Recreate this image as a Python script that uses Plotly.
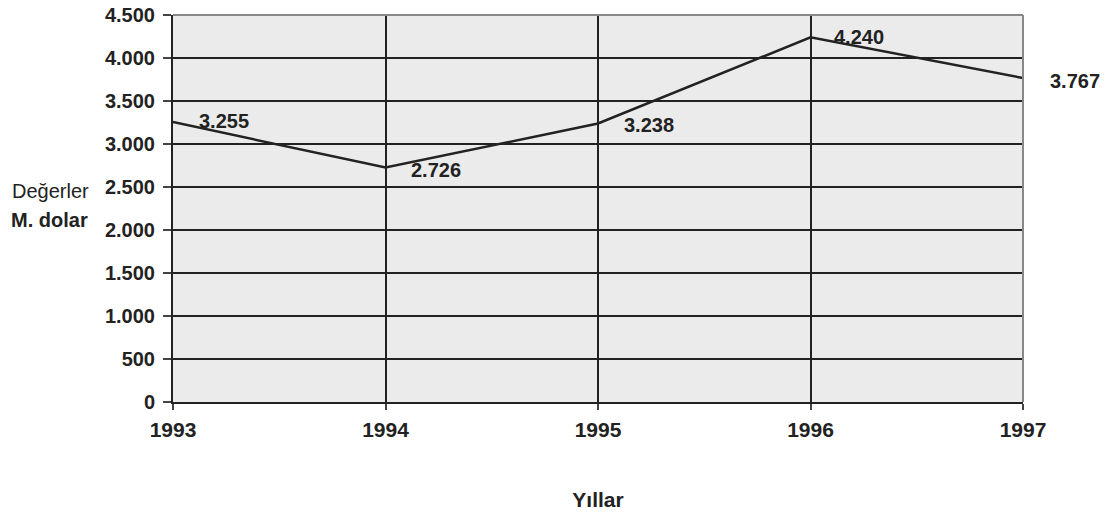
import plotly.graph_objects as go

years = [1993, 1994, 1995, 1996, 1997]
values = [3255, 2726, 3238, 4240, 3767]
value_labels = ["3.255", "2.726", "3.238", "4.240", "3.767"]
label_xshift = [24, 23, 24, 21, 25]
label_yshift = [1, -2, -1, 0, -3]
ytick_vals = [0, 500, 1000, 1500, 2000, 2500, 3000, 3500, 4000, 4500]
ytick_text = ["0", "500", "1.000", "1.500", "2.000", "2.500", "3.000", "3.500", "4.000", "4.500"]

FONT = "Liberation Sans, Arial, sans-serif"
INK = "#222222"

fig = go.Figure()
fig.add_trace(go.Scatter(x=years, y=values, mode="lines",
                         line=dict(color=INK, width=2.5),
                         hoverinfo="skip", showlegend=False, cliponaxis=False))

for x, y, t, xs, ys in zip(years, values, value_labels, label_xshift, label_yshift):
    fig.add_annotation(x=x, y=y, xref="x", yref="y", text="<b>%s</b>" % t,
                       showarrow=False, xanchor="left", yanchor="middle",
                       xshift=xs, yshift=ys,
                       font=dict(family=FONT, size=20, color=INK))

fig.add_annotation(x=-0.192, y=0.544, xref="paper", yref="paper", text="Değerler",
                   showarrow=False, xanchor="left", yanchor="middle",
                   font=dict(family=FONT, size=20, color=INK))
fig.add_annotation(x=-0.193, y=0.47, xref="paper", yref="paper", text="<b>M. dolar</b>",
                   showarrow=False, xanchor="left", yanchor="middle",
                   font=dict(family=FONT, size=20, color=INK))

fig.update_layout(
    width=1107, height=516,
    margin=dict(l=173, r=84, t=15, b=114, autoexpand=False),
    paper_bgcolor="white",
    plot_bgcolor="#ebebeb",
    font=dict(family=FONT, size=20, color=INK),
    xaxis=dict(range=[1993, 1997], tickvals=years,
               ticktext=["<b>%d</b>" % y for y in years],
               tickfont=dict(family=FONT, size=21, color=INK),
               showgrid=True, gridcolor=INK, gridwidth=2,
               zeroline=False, showline=True, linecolor=INK, linewidth=2,
               mirror=False, ticks="outside", ticklen=6, tickcolor="#444444",
               tickwidth=2, ticklabelstandoff=2, automargin=False,
               title=dict(text="<b>Yıllar</b>", standoff=52,
                          font=dict(family=FONT, size=21, color=INK))),
    yaxis=dict(range=[0, 4500], tickvals=ytick_vals,
               ticktext=["<b>%s</b>" % t for t in ytick_text],
               tickfont=dict(family=FONT, size=20, color=INK),
               showgrid=True, gridcolor=INK, gridwidth=2,
               zeroline=False, showline=True, linecolor=INK, linewidth=2,
               mirror=False, ticks="outside", ticklen=8, tickcolor="#444444",
               tickwidth=2, ticklabelstandoff=4, automargin=False),
    shapes=[
        dict(type="line", xref="paper", yref="paper", x0=0, x1=1, y0=1, y1=1,
             line=dict(color="#888888", width=2)),
        dict(type="line", xref="paper", yref="paper", x0=1, x1=1, y0=0, y1=1,
             line=dict(color="#888888", width=2)),
    ],
)
fig.write_html("out.html", config={"displayModeBar": False, "staticPlot": True},
               post_script="document.body.style.margin='0';document.body.style.overflow='hidden';")
